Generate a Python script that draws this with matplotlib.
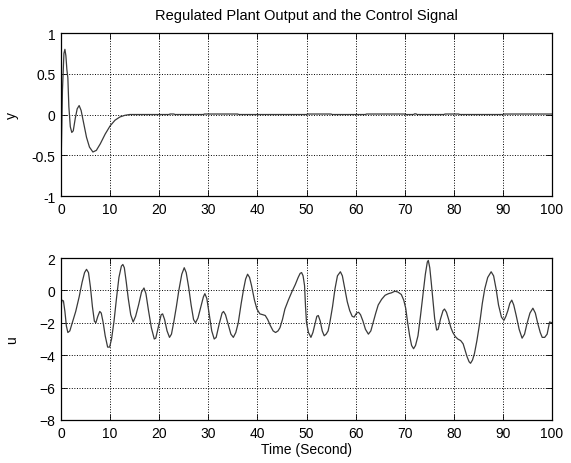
# Regulated plant output and control signal (two stacked panels)
import matplotlib
matplotlib.use('Agg')
import matplotlib.pyplot as plt

# plant output y
t_y = [0, 0.3, 0.6, 0.8, 1.0, 1.2, 1.4, 1.6, 1.9, 2.2, 2.5, 2.9, 3.3, 3.7, 4.1,
       4.6, 5.2, 5.8, 6.5, 7.2, 8.0, 9.0, 10.0, 11.0, 12.0, 13.0, 14.0,
       22.0, 22.2, 23.0, 23.2, 29.0, 29.2, 36.0, 36.2, 50.0, 50.2, 55.0, 55.2,
       62.0, 62.2, 70.0, 70.2, 71.8, 72.0, 72.3, 72.5, 78.0, 78.2, 81.0, 81.2,
       90.0, 90.2, 100.0]
y_vals = [-0.67, 0.3, 0.75, 0.8, 0.72, 0.55, 0.45, 0.1, -0.15, -0.22, -0.2, -0.05, 0.07, 0.11, 0.05,
          -0.1, -0.28, -0.4, -0.46, -0.44, -0.36, -0.24, -0.14, -0.07, -0.03, -0.01, 0.0,
          0.0, 0.006, 0.006, 0.0, 0.0, 0.006, 0.006, 0.0, 0.0, 0.006, 0.006, 0.0,
          0.0, 0.006, 0.006, 0.0, 0.0, 0.008, 0.008, 0.0, 0.0, 0.006, 0.006, 0.0,
          0.0, 0.006, 0.006]

# control signal u (rows of t_u and u_vals line up)
t_u = [0, 0.2, 0.5, 0.8, 1.1, 1.4, 1.8, 2.3, 3.0, 3.7, 4.3, 4.8, 5.2, 5.6, 6.0, 6.4, 6.8, 7.1, 7.5, 7.9,
       8.2, 8.6, 9.0, 9.5, 9.9, 10.3, 10.8, 11.3, 11.8, 12.3, 12.6, 12.9, 13.3, 13.7, 14.2, 14.7, 15.2, 15.8, 16.4, 16.9,
       17.3, 17.8, 18.4, 19.0, 19.3, 19.9, 20.4, 20.7, 21.1, 21.6, 22.1, 22.5, 23.0, 23.5, 24.0, 24.6, 25.1, 25.5, 26.0, 26.5,
       27.0, 27.4, 27.9, 28.5, 29.0, 29.3, 29.7, 30.2, 30.7, 31.2, 31.6, 32.2, 32.8, 33.1, 33.5, 34.1, 34.6, 35.1, 35.6, 36.1,
       36.7, 37.2, 37.6, 38.0, 38.4, 38.8, 39.4, 39.9, 40.5, 41.1, 41.6, 42.1, 42.6, 43.2, 43.7, 44.2, 44.6, 45.1, 45.6, 46.3,
       47.0, 47.7, 48.3, 48.7, 49.0, 49.3, 49.6, 49.8, 50.0, 50.4, 50.9, 51.3, 51.7, 52.1, 52.4, 52.8, 53.2, 53.6, 54.0, 54.4,
       54.8, 55.3, 55.8, 56.3, 56.9, 57.3, 57.8, 58.3, 58.8, 59.3, 59.7, 60.2, 60.6, 61.0, 61.5, 62.0, 62.6, 63.1, 63.6, 64.1,
       64.6, 65.3, 66.0, 66.7, 67.3, 68.0, 68.6, 69.3, 69.8, 70.2, 70.6, 71.0, 71.4, 71.8, 72.2, 72.7, 73.2, 73.7, 74.2, 74.6,
       74.8, 75.1, 75.4, 75.8, 76.1, 76.5, 76.8, 77.3, 77.8, 78.1, 78.5, 78.9, 79.4, 79.8, 80.3, 80.8, 81.4, 81.9, 82.3, 82.7,
       83.1, 83.4, 83.8, 84.2, 84.7, 85.3, 85.8, 86.3, 86.9, 87.6, 88.1, 88.6, 89.1, 89.7, 90.2, 90.6, 91.0, 91.4, 91.8, 92.2,
       92.7, 93.3, 93.9, 94.4, 94.9, 95.5, 96.1, 96.6, 97.1, 97.6, 98.0, 98.5, 99.0, 99.5, 100.0]
u_vals = [-1.0, -0.6, -0.65, -1.3, -2.2, -2.6, -2.5, -2.0, -1.3, -0.4, 0.5, 1.1, 1.3, 1.1, 0.2, -1.0, -1.9, -2.0, -1.6, -1.3,
          -1.4, -2.0, -2.8, -3.5, -3.5, -3.0, -1.9, -0.5, 0.8, 1.5, 1.6, 1.4, 0.5, -0.5, -1.5, -1.95, -1.6, -0.9, -0.1, 0.15,
          -0.2, -1.2, -2.3, -3.0, -2.95, -2.15, -1.5, -1.45, -1.8, -2.5, -2.9, -2.7, -1.9, -1.0, 0.0, 1.0, 1.4, 1.1, 0.2, -0.9,
          -1.8, -2.0, -1.7, -1.0, -0.4, -0.2, -0.5, -1.5, -2.5, -3.0, -2.9, -2.1, -1.4, -1.3, -1.5, -2.15, -2.7, -2.9, -2.6, -2.0,
          -0.8, 0.1, 0.7, 1.0, 0.8, 0.3, -0.6, -1.15, -1.45, -1.5, -1.55, -1.8, -2.15, -2.5, -2.6, -2.5, -2.3, -1.8, -1.15, -0.6,
          -0.1, 0.35, 0.8, 1.05, 1.1, 0.9, 0.3, -1.0, -2.0, -2.6, -2.9, -2.6, -2.1, -1.6, -1.55, -1.9, -2.5, -2.8, -2.7, -2.5,
          -1.9, -1.0, 0.1, 0.9, 1.15, 0.9, 0.1, -0.7, -1.25, -1.6, -1.65, -1.4, -1.35, -1.5, -1.9, -2.4, -2.7, -2.5, -1.95, -1.4,
          -0.9, -0.55, -0.3, -0.2, -0.15, -0.05, -0.1, -0.25, -0.6, -1.1, -2.0, -2.8, -3.4, -3.6, -3.4, -2.8, -1.6, -0.3, 1.0, 1.75,
          1.85, 1.4, 0.5, -0.8, -1.75, -2.45, -2.4, -1.75, -1.25, -1.15, -1.35, -1.75, -2.3, -2.6, -2.85, -3.0, -3.1, -3.3, -3.7, -4.1,
          -4.4, -4.5, -4.3, -3.9, -3.1, -1.95, -0.8, 0.1, 0.8, 1.15, 0.9, 0.1, -0.9, -1.65, -1.85, -1.6, -1.25, -0.8, -0.6, -0.9,
          -1.55, -2.4, -2.95, -2.7, -2.05, -1.4, -1.1, -1.4, -2.05, -2.6, -2.9, -2.9, -2.7, -1.95, -2.0]
assert len(t_u) == len(u_vals)

x_ticks = [0, 10, 20, 30, 40, 50, 60, 70, 80, 90, 100]
y_ticks = [-1, -0.5, 0, 0.5, 1]
u_ticks = [-8, -6, -4, -2, 0, 2]

plt.rcParams['font.family'] = ['Liberation Sans', 'DejaVu Sans']
plt.rcParams['font.size'] = 10

fig = plt.figure(figsize=(5.71, 4.64), dpi=100)
ax1 = fig.add_axes([0.1068, 0.5754, 0.86, 0.3513])
ax2 = fig.add_axes([0.1068, 0.0927, 0.86, 0.3491])

def style(ax):
    ax.set_xlim(0, 100)
    ax.set_xticks(x_ticks)
    ax.grid(True, linestyle=':', color='black', linewidth=0.7)
    ax.tick_params(direction='in', length=4, width=0.6, top=True, right=True, pad=4)
    for s in ax.spines.values():
        s.set_linewidth(0.9)

ax1.plot(t_y, y_vals, color='#3a3a3a', linewidth=0.9)
style(ax1)
ax1.set_ylim(-1, 1)
ax1.set_yticks(y_ticks)
ax1.set_yticklabels(['-1', '-0.5', '0', '0.5', '1'])
ax1.set_ylabel('y')
ax1.yaxis.set_label_coords(-0.086, 0.5)
ax1.set_title('Regulated Plant Output and the Control Signal', fontsize=10.5, pad=10)

ax2.plot(t_u, u_vals, color='#3a3a3a', linewidth=0.9)
style(ax2)
ax2.set_ylim(-8, 2)
ax2.set_yticks(u_ticks)
ax2.set_ylabel('u')
ax2.yaxis.set_label_coords(-0.086, 0.5)
ax2.set_xlabel('Time (Second)', labelpad=2)

fig.savefig('out.png', dpi=100)
